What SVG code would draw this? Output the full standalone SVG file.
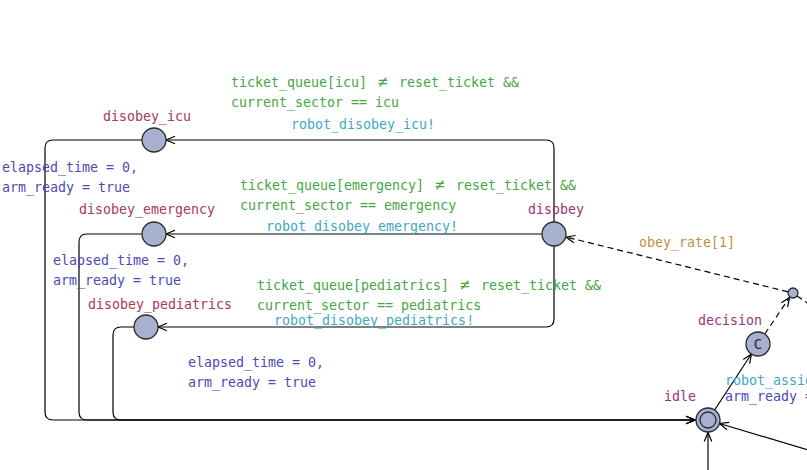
<svg xmlns="http://www.w3.org/2000/svg" width="807" height="470" viewBox="0 0 807 470">
<style>
  text { font-family: "DejaVu Sans Mono", "Liberation Mono", monospace; font-size: 13.3px; }
  .loc { fill: #a8b0d0; stroke: #2a2a2a; stroke-width: 1.3; }
  .name { fill: #a83a58; }
  .name2 { fill: #9a3478; }
  .guard { fill: #44a844; }
  .sync { fill: #40a8c4; }
  .assign { fill: #4a4ab8; }
  .prob { fill: #c49040; }
  .ne { font-size: 16px; }
  .edge { fill: none; stroke: #000; stroke-width: 1.2; marker-end: url(#arr); }
  .dash { stroke-dasharray: 6 4; }
</style>
<defs>
  <marker id="arr" viewBox="-10 -6 12 12" refX="0" refY="0" markerWidth="12" markerHeight="12" markerUnits="userSpaceOnUse" orient="auto">
    <path d="M-9,-3.8 L0,0 L-9,3.8" fill="none" stroke="#000" stroke-width="1.2"/>
  </marker>
</defs>
<rect width="807" height="470" fill="#fff"/>

<g id="connectors">
  <path class="edge" d="M554,222 L554,148 Q554,140 546,140 L166,140"/>
  <path class="edge" d="M542,234 L166,234"/>
  <path class="edge" d="M554,246 L554,319 Q554,327 546,327 L158,327"/>
  <path class="edge" d="M142,140 L53,140 Q45,140 45,148 L45,412 Q45,420 53,420 L695,420"/>
  <path class="edge" d="M142,234 L87,234 Q79,234 79,242 L79,412 Q79,420 87,420 L695,420"/>
  <path class="edge" d="M134,327 L121,327 Q113,327 113,335 L113,412 Q113,420 121,420 L695,420"/>
  <path class="edge" d="M714.6,410 L751.4,354"/>
  <path class="edge dash" d="M764.8,334 L789.5,297.5"/>
  <path class="edge dash" d="M788,291.8 L566,237"/>
  <path class="edge dash" style="marker-end:none" d="M797,296 L815,308"/>
  <path class="edge" d="M815,452 L719.5,423.5"/>
  <path class="edge" d="M708,475 L708,432.5"/>

  <text class="guard" x="231" y="87">ticket_queue[icu] <tspan class="ne" x="378">≠</tspan><tspan x="391"> reset_ticket &amp;&amp;</tspan></text>
  <text class="guard" x="231" y="107">current_sector == icu</text>
  <text class="sync" x="291" y="129">robot_disobey_icu!</text>
  <text class="assign" x="2" y="172">elapsed_time = 0,</text>
  <text class="assign" x="2" y="192">arm_ready = true</text>

  <text class="guard" x="240" y="190">ticket_queue[emergency] <tspan class="ne" x="435">≠</tspan><tspan x="448"> reset_ticket &amp;&amp;</tspan></text>
  <text class="guard" x="240" y="210">current_sector == emergency</text>
  <text class="sync" x="266" y="231">robot_disobey_emergency!</text>
  <text class="assign" x="53" y="265">elapsed_time = 0,</text>
  <text class="assign" x="53" y="285">arm_ready = true</text>

  <text class="guard" x="257" y="290">ticket_queue[pediatrics] <tspan class="ne" x="460">≠</tspan><tspan x="473"> reset_ticket &amp;&amp;</tspan></text>
  <text class="guard" x="257" y="310">current_sector == pediatrics</text>
  <text class="sync" x="274" y="325">robot_disobey_pediatrics!</text>
  <text class="assign" x="188" y="367">elapsed_time = 0,</text>
  <text class="assign" x="188" y="387">arm_ready = true</text>

  <text class="prob" x="639" y="247">obey_rate[1]</text>
  <text class="sync" x="725" y="385">robot_assig</text>
  <text class="assign" x="725" y="401">arm_ready =</text>
</g>

<g id="disobey_icu">
  <circle class="loc" cx="154" cy="140" r="12"/>
  <text class="name" x="103" y="121">disobey_icu</text>
</g>
<g id="disobey_emergency">
  <circle class="loc" cx="154" cy="234" r="12"/>
  <text class="name" x="79" y="214">disobey_emergency</text>
</g>
<g id="disobey_pediatrics">
  <circle class="loc" cx="146" cy="327" r="12"/>
  <text class="name" x="88" y="309">disobey_pediatrics</text>
</g>
<g id="disobey">
  <circle class="loc" cx="554" cy="234" r="12"/>
  <text class="name2" x="528" y="214">disobey</text>
</g>
<g id="decision">
  <circle class="loc" cx="758" cy="344" r="12"/>
  <text x="758" y="349" text-anchor="middle" fill="#2a2a2a" style="font-size:14px">C</text>
  <text class="name2" x="698" y="325">decision</text>
</g>
<g id="branch">
  <circle class="loc" cx="793" cy="293" r="5"/>
</g>
<g id="idle">
  <circle class="loc" cx="708" cy="420" r="12"/>
  <circle cx="708" cy="420" r="8" fill="none" stroke="#2a2a2a" stroke-width="1.3"/>
  <text class="name2" x="664" y="401">idle</text>
</g>
</svg>
